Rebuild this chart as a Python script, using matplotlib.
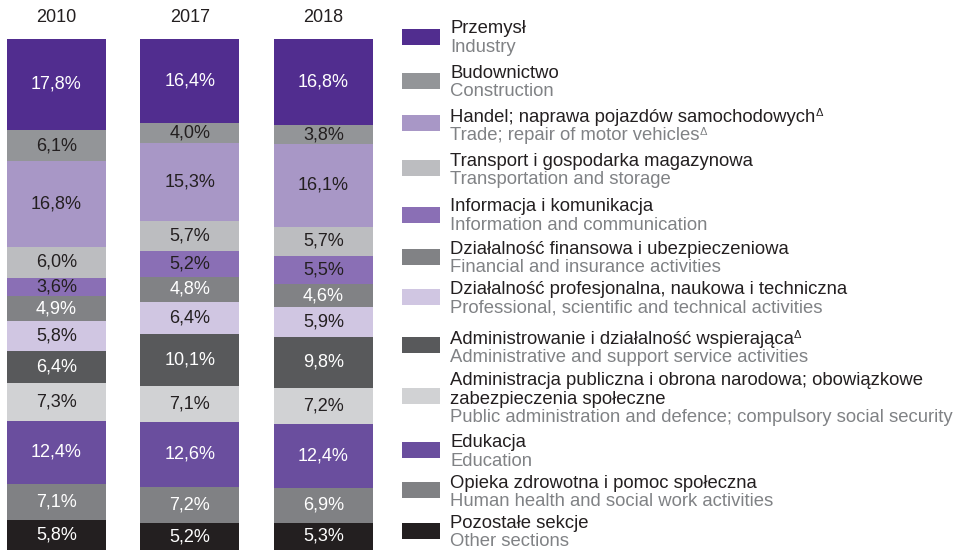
import numpy as np
import matplotlib.pyplot as plt
from matplotlib.patches import Rectangle

plt.rcParams['font.family'] = ['Liberation Sans', 'DejaVu Sans']

years = ['2010', '2017', '2018']

labels_pl = [
    'Przemysł',
    'Budownictwo',
    'Handel; naprawa pojazdów samochodowych',
    'Transport i gospodarka magazynowa',
    'Informacja i komunikacja',
    'Działalność finansowa i ubezpieczeniowa',
    'Działalność profesjonalna, naukowa i techniczna',
    'Administrowanie i działalność wspierająca',
    'Administracja publiczna i obrona narodowa; obowiązkowe\nzabezpieczenia społeczne',
    'Edukacja',
    'Opieka zdrowotna i pomoc społeczna',
    'Pozostałe sekcje',
]
labels_en = [
    'Industry',
    'Construction',
    'Trade; repair of motor vehicles',
    'Transportation and storage',
    'Information and communication',
    'Financial and insurance activities',
    'Professional, scientific and technical activities',
    'Administrative and support service activities',
    'Public administration and defence; compulsory social security',
    'Education',
    'Human health and social work activities',
    'Other sections',
]
# sections marked with a delta footnote sign (Polish, English)
delta_pl = [2, 7]
delta_en = [2]

# shares (%) per section, rows = sections (top to bottom), cols = years
shares = np.array([
    [17.8, 16.4, 16.8],
    [6.1, 4.0, 3.8],
    [16.8, 15.3, 16.1],
    [6.0, 5.7, 5.7],
    [3.6, 5.2, 5.5],
    [4.9, 4.8, 4.6],
    [5.8, 6.4, 5.9],
    [6.4, 10.1, 9.8],
    [7.3, 7.1, 7.2],
    [12.4, 12.6, 12.4],
    [7.1, 7.2, 6.9],
    [5.8, 5.2, 5.3],
])

colors = ['#512d8f', '#939598', '#a897c6', '#bcbdc0', '#8a6fb5', '#818285',
          '#d0c6e2', '#58595b', '#d1d2d4', '#6a4e9e', '#808184', '#231f20']
text_colors = ['white', '#231f20', '#231f20', '#231f20', '#231f20', 'white',
               '#231f20', 'white', '#231f20', 'white', 'white', 'white']

# legend layout in pixels from top: swatch centres and first text baselines
legend_y = [37, 81, 123, 168, 215, 257, 297, 345, 396, 450, 490, 531]
legend_base = [33, 78, 122, 166, 211, 254, 294, 344, 385, 447, 488, 528]

W, H = 961, 550
fig = plt.figure(figsize=(W / 100, H / 100), dpi=100)

ax = fig.add_axes([7 / W, 0, 366 / W, 511 / H])
x = np.arange(len(years))
bw = 99 / 133.5
bottom = np.zeros(len(years))
for i in range(len(shares)):
    ax.bar(x, shares[i], bw, bottom=bottom, color=colors[i], linewidth=0)
    for j in range(len(years)):
        ax.text(x[j], bottom[j] + shares[i][j] / 2,
                f'{shares[i][j]:.1f}%'.replace('.', ','),
                ha='center', va='center', fontsize=13, color=text_colors[i])
    bottom += shares[i]
for j, yr in enumerate(years):
    ax.text(x[j], -4.3, yr, ha='center', va='center', fontsize=13,
            color='#231f20', clip_on=False)
ax.set_xlim(-bw / 2, len(years) - 1 + bw / 2)
ax.set_ylim(100, 0)
ax.axis('off')

# legend
lax = fig.add_axes([0, 0, 1, 1])
lax.set_xlim(0, W)
lax.set_ylim(H, 0)
lax.axis('off')
step = 18.5


def add_delta(t, color):
    lax.annotate('\u0394', xy=(1, 0.45), xycoords=t, ha='left', va='bottom',
                 fontsize=8, color=color)


for i in range(len(labels_pl)):
    yc = legend_y[i]
    lax.add_patch(Rectangle((402, yc - 8), 38, 16, color=colors[i], linewidth=0))
    pl_lines = labels_pl[i].split('\n')
    for k, line in enumerate(pl_lines):
        t = lax.text(450, legend_base[i] + k * step, line, ha='left',
                     va='baseline', fontsize=13.3, color='#231f20')
    if i in delta_pl:
        add_delta(t, '#231f20')
    t = lax.text(450, legend_base[i] + len(pl_lines) * step, labels_en[i],
                 ha='left', va='baseline', fontsize=13.3, color='#808285')
    if i in delta_en:
        add_delta(t, '#808285')

fig.savefig('out.png', dpi=100)
